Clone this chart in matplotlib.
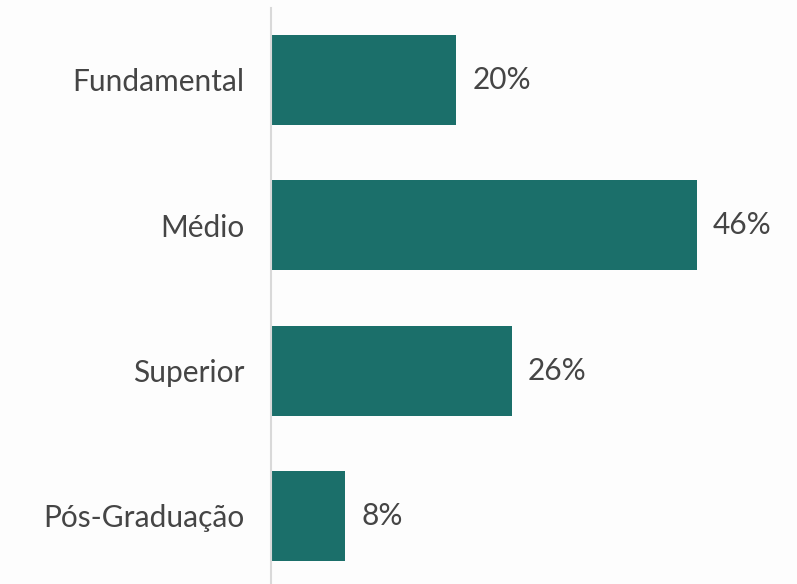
import matplotlib
matplotlib.use("Agg")
import matplotlib.pyplot as plt

# Escolaridade
categories = ["Fundamental", "Médio", "Superior", "Pós-Graduação"]
values = [20, 46, 26, 8]
labels = ["20%", "46%", "26%", "8%"]

bar_color = "#1b6f6a"
text_color = "#454545"
plt.rcParams['font.family'] = ['Lato', 'DejaVu Sans']

fig = plt.figure(figsize=(7.97, 5.84), dpi=100, facecolor="#fdfdfd")
ax = fig.add_axes([271 / 797, 0.0, 1 - 271 / 797, 1 - 8 / 584])
ax.set_facecolor("#fdfdfd")

pos = range(len(categories))
ax.barh(pos, values, height=0.62, color=bar_color)
for y, v, lab in zip(pos, values, labels):
    ax.annotate(lab, (v, y), xytext=(16, 0), textcoords="offset pixels",
                va="center", ha="left", fontsize=21.5, color=text_color)

ax.set_xlim(0, 56.8)
ax.set_ylim(3.468, -0.495)
ax.set_yticks(list(pos))
ax.set_yticklabels(categories, fontsize=21.5, color=text_color)
ax.tick_params(axis="y", length=0, pad=19)
ax.set_xticks([])
for s in ["top", "right", "bottom"]:
    ax.spines[s].set_visible(False)
ax.spines["left"].set_color("#d9d9d9")
ax.spines["left"].set_linewidth(1.5)

fig.savefig("out.png", dpi=100, facecolor=fig.get_facecolor())
